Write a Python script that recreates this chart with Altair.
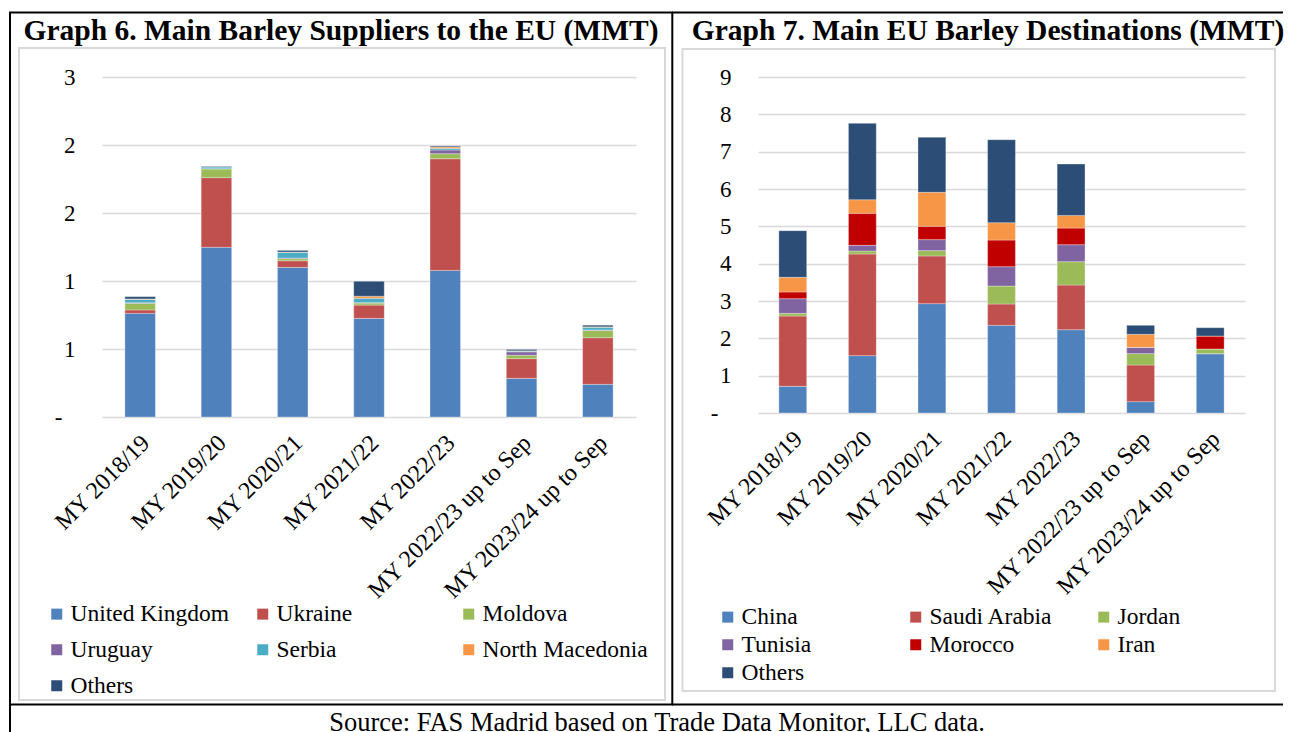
import altair as alt
import pandas as pd

FONT = "Liberation Serif"

categories = ["MY 2018/19", "MY 2019/20", "MY 2020/21", "MY 2021/22", "MY 2022/23",
              "MY 2022/23 up to Sep", "MY 2023/24 up to Sep"]

# Graph 6 - suppliers (MMT)
sup_names = ["United Kingdom", "Ukraine", "Moldova", "Uruguay", "Serbia", "North Macedonia", "Others"]
sup_uk = [0.762, 1.248, 1.100, 0.725, 1.078, 0.284, 0.240]
sup_ukraine = [0.025, 0.512, 0.049, 0.098, 0.821, 0.145, 0.343]
sup_moldova = [0.049, 0.064, 0.015, 0.015, 0.037, 0.025, 0.054]
sup_uruguay = [0.004, 0.002, 0.005, 0.003, 0.027, 0.025, 0.003]
sup_serbia = [0.025, 0.012, 0.042, 0.032, 0.012, 0.005, 0.020]
sup_nmacedonia = [0.003, 0.003, 0.002, 0.015, 0.010, 0.003, 0.003]
sup_others = [0.017, 0.004, 0.012, 0.110, 0.007, 0.010, 0.012]
sup_colors = ["#4F81BD", "#C0504D", "#9BBB59", "#8064A2", "#4BACC6", "#F79646", "#2C4D75"]
sup_ticks = [0, 0.5, 1, 1.5, 2, 2.5]

# Graph 7 - destinations (MMT)
dest_names = ["China", "Saudi Arabia", "Jordan", "Tunisia", "Morocco", "Iran", "Others"]
dest_china = [0.714, 1.536, 2.929, 2.348, 2.232, 0.304, 1.589]
dest_saudi = [1.884, 2.723, 1.277, 0.571, 1.196, 0.982, 0.0]
dest_jordan = [0.071, 0.080, 0.143, 0.482, 0.625, 0.304, 0.125]
dest_tunisia = [0.393, 0.152, 0.295, 0.518, 0.455, 0.170, 0.0]
dest_morocco = [0.179, 0.857, 0.357, 0.714, 0.446, 0.0, 0.348]
dest_iran = [0.393, 0.366, 0.911, 0.464, 0.339, 0.348, 0.0]
dest_others = [1.250, 2.045, 1.473, 2.223, 1.375, 0.241, 0.223]
dest_colors = ["#4F81BD", "#C0504D", "#9BBB59", "#8064A2", "#C00000", "#F79646", "#2C4D75"]
dest_ticks = [0, 1, 2, 3, 4, 5, 6, 7, 8, 9]

title6 = "Graph 6. Main Barley Suppliers to the EU (MMT)"
title7 = "Graph 7. Main EU Barley Destinations (MMT)"
source_text = "Source: FAS Madrid based on Trade Data Monitor, LLC data."


def long_frame(names, series):
    rows = []
    for k, (name, vals) in enumerate(zip(names, series)):
        for c, v in zip(categories, vals):
            rows.append({"cat": c, "series": name, "value": v, "idx": k})
    return pd.DataFrame(rows)


df_sup = long_frame(sup_names, [sup_uk, sup_ukraine, sup_moldova, sup_uruguay,
                                sup_serbia, sup_nmacedonia, sup_others])
df_dest = long_frame(dest_names, [dest_china, dest_saudi, dest_jordan, dest_tunisia,
                                  dest_morocco, dest_iran, dest_others])

one = pd.DataFrame({"k": [0]})

LABEL_EXPR = "datum.value == 0 ? '-' : format(round(datum.value), 'd')"


def rule(x1, y1, x2, y2, color="black", w=2, op=1):
    return alt.Chart(one).mark_rule(color=color, strokeWidth=w, opacity=op).encode(
        x=alt.value(x1), y=alt.value(y1), x2=alt.value(x2), y2=alt.value(y2))


def box(x1, y1, x2, y2):
    return alt.Chart(one).mark_rect(fillOpacity=0, stroke="#d9d9d9", strokeWidth=2).encode(
        x=alt.value(x1), y=alt.value(y1), x2=alt.value(x2), y2=alt.value(y2))


def text(t, x, y, size, bold=False):
    return alt.Chart(one).mark_text(text=t, font=FONT, fontSize=size,
                                    fontWeight="bold" if bold else "normal",
                                    align="center", baseline="alphabetic", color="black").encode(
        x=alt.value(x), y=alt.value(y))


def bars(df, names, colors, ymax, ticks, W, H, lx, ly, colpad, rowpad):
    return alt.Chart(df).mark_bar(stroke="white", strokeWidth=0.5, strokeOpacity=0.6).encode(
        x=alt.X("cat:N", sort=categories,
                scale=alt.Scale(paddingInner=0.6, paddingOuter=0.3),
                axis=alt.Axis(title=None, labelAngle=-45, labelAlign="right", labelBaseline="middle",
                              labelFont=FONT, labelFontSize=24, labelColor="black",
                              labelPadding=22, labelOffset=6,
                              ticks=False, domain=False, grid=False, labelLimit=0,
                              labelOverlap=False)),
        y=alt.Y("value:Q", stack="zero",
                scale=alt.Scale(domain=[0, ymax], nice=False, zero=True),
                axis=alt.Axis(title=None, values=ticks, labelExpr=LABEL_EXPR, labelFont=FONT,
                              labelFontSize=23, labelColor="black",
                              labelPadding={"condition": {"test": "datum.value == 0", "value": 40},
                                            "value": 27},
                              ticks=False, domain=False, grid=True, gridColor="#d9d9d9",
                              gridWidth=1.5)),
        color=alt.Color("series:N", scale=alt.Scale(domain=names, range=colors),
                        legend=alt.Legend(orient="none", direction="horizontal",
                                          legendX=lx, legendY=ly, columns=3,
                                          gridAlign="all", columnPadding=colpad, rowPadding=rowpad,
                                          symbolType="square", symbolSize=121,
                                          symbolStrokeWidth=0, symbolOpacity=1,
                                          labelFont=FONT, labelFontSize=23.5, labelColor="black",
                                          labelOffset=2, padding=0, title=None, labelLimit=0)),
        order=alt.Order("idx:Q", sort="ascending"),
    ).properties(width=W, height=H)


# Panel 1: plot origin at page (102, 77)
b1 = bars(df_sup, sup_names, sup_colors, 2.5, sup_ticks, 534, 340, -57, 525, 15, 11)
p1 = alt.layer(
    rule(-94, -69, -60, -69, op=0),
    box(-83, -29, 563, 623),
    b1,
    rule(-92, -64.5, -92, 660),
    rule(-93, -64.5, 571, -64.5),
    rule(570.3, -64.5, 570.3, 628),
    rule(-93, 627.5, 571, 627.5),
    text(title6, 239, -37, 29.5, bold=True),
    text(source_text, 555, 654, 26.5),
).properties(width=534, height=340)

# Panel 2: plot origin at page (758, 77)
b2 = bars(df_dest, dest_names, dest_colors, 9, dest_ticks, 487, 336, -42, 528, 39, 3)
p2 = alt.layer(
    box(-75.5, -28, 517, 614),
    b2,
    rule(-86, -64.5, 525, -64.5),
    rule(-86, 627.5, 525, 627.5),
    text(title7, 230, -37, 29.5, bold=True),
).properties(width=487, height=336)

chart = alt.hconcat(p1, p2, spacing=122, bounds="flush").resolve_scale(
    x="independent", y="independent", color="independent"
).resolve_legend(color="independent").properties(
    padding={"left": 0, "top": 0, "right": 0, "bottom": 0},
    background="white",
).configure_view(stroke=None)

chart.save("out.html", embed_options={"renderer": "svg", "actions": False})
